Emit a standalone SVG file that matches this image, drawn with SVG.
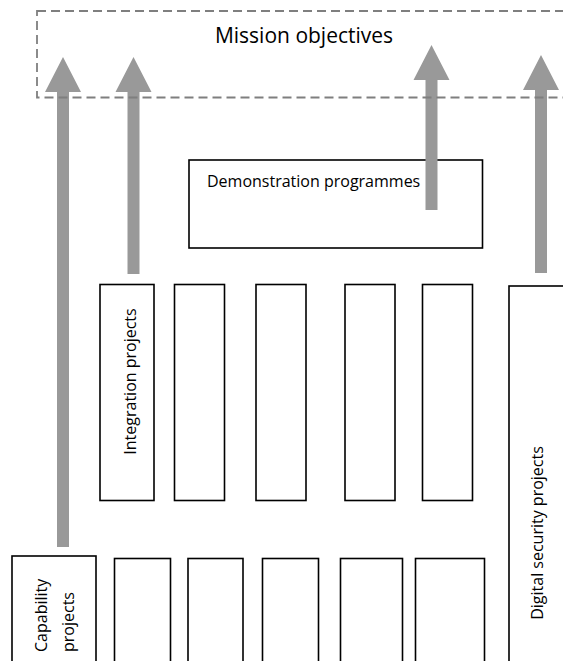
<svg xmlns="http://www.w3.org/2000/svg" width="563" height="661" viewBox="0 0 563 661">
<style>
.box{fill:#fff;stroke:#000;stroke-width:1.6}
.dash{fill:none;stroke:#7f7f7f;stroke-width:1.8;stroke-dasharray:9 5}
.arr{fill:#999999;stroke:none}
text{font-family:"Open Sans","Liberation Sans",sans-serif;fill:#000}
.t16{font-size:16px}
.t21{font-size:21px}
</style>
<rect width="563" height="661" fill="#fff"/>
<g id="nodes">
<g id="demonstration">
<rect class="box" x="189" y="160" width="293.5" height="88"/>
<text class="t16" x="207" y="187">Demonstration programmes</text>
</g>
<g id="integration">
<rect class="box" x="100" y="284.5" width="54" height="216"/>
<text class="t16" text-anchor="middle" transform="translate(136,381.5) rotate(-90)">Integration projects</text>
</g>
<g id="mid2"><rect class="box" x="174.5" y="284.5" width="50" height="216"/></g>
<g id="mid3"><rect class="box" x="256" y="284.5" width="50" height="216"/></g>
<g id="mid4"><rect class="box" x="345" y="284.5" width="50" height="216"/></g>
<g id="mid5"><rect class="box" x="422.5" y="284.5" width="50" height="216"/></g>
<g id="digital">
<rect class="box" x="509" y="286" width="70" height="400"/>
<text class="t16" text-anchor="middle" transform="translate(542.5,533) rotate(-90)">Digital security projects</text>
</g>
<g id="capability">
<rect class="box" x="12" y="556" width="84" height="120"/>
<text class="t16" transform="translate(47,652) rotate(-90)">Capability</text>
<text class="t16" transform="translate(74,652) rotate(-90)">projects</text>
</g>
<g id="low2"><rect class="box" x="114.5" y="558.5" width="56" height="120"/></g>
<g id="low3"><rect class="box" x="188" y="558.5" width="55" height="120"/></g>
<g id="low4"><rect class="box" x="262.5" y="558.5" width="56" height="120"/></g>
<g id="low5"><rect class="box" x="340.5" y="558.5" width="62" height="120"/></g>
<g id="low6"><rect class="box" x="415.5" y="558.5" width="69" height="120"/></g>
</g>
<g id="connectors">
<path class="arr" d="M57,92 H45 L63,57 L81,92 H69 V547 H57 Z"/>
<path class="arr" d="M127.5,92 H115.5 L133.5,57 L151.5,92 H139.5 V274 H127.5 Z"/>
<path class="arr" d="M425.5,80 H413.5 L431.5,45 L449.5,80 H437.5 V210 H425.5 Z"/>
<path class="arr" d="M535,90 H523 L541,55 L559,90 H547 V273 H535 Z"/>
</g>
<g id="mission">
<rect class="dash" x="37" y="11" width="560" height="86.5"/>
<text class="t21" x="304" y="43" text-anchor="middle">Mission objectives</text>
</g>
</svg>
